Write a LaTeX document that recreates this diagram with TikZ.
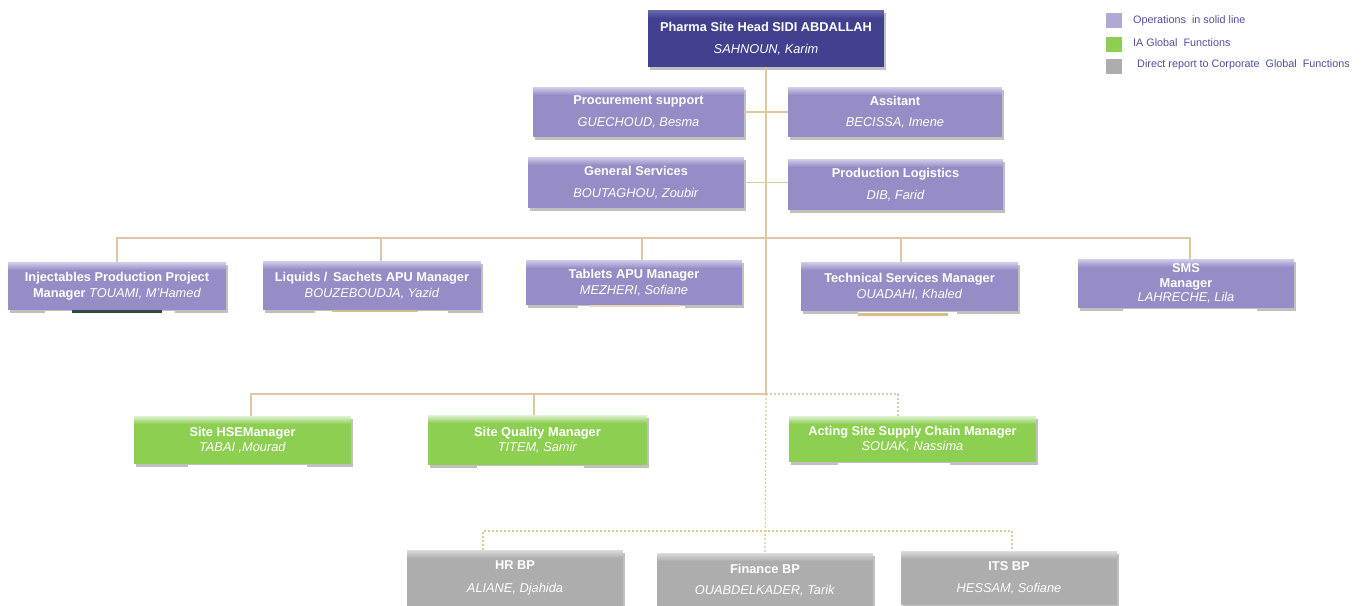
\documentclass[tikz,border=0pt]{standalone}
\usepackage{fontspec}
\setmainfont{Liberation Sans}
\usetikzlibrary{shadows}

\definecolor{headfill}{HTML}{41418F}
\definecolor{headlight}{HTML}{6A6AB0}
\definecolor{opsfill}{HTML}{968DC6}
\definecolor{opslight}{HTML}{D2CDEC}
\definecolor{iafill}{HTML}{8DCF50}
\definecolor{ialight}{HTML}{E0F2D4}
\definecolor{corpfill}{HTML}{ADADAD}
\definecolor{corplight}{HTML}{DCDCDC}
\definecolor{linkcol}{HTML}{DDC8A2}
\definecolor{legtext}{HTML}{4F4FA0}
\definecolor{barteal}{HTML}{2E4A4A}
\definecolor{bargold}{HTML}{D8BC86}

\begin{document}
\begin{tikzpicture}[x=1pt,y=-1pt,
  card/.style={inner sep=0pt, align=center, text=white,
    font=\fontsize{12.8}{15.5}\selectfont,
    drop shadow={shadow xshift=1.5pt,shadow yshift=-2.5pt,opacity=0.45,fill=black!55}},
  % light band fading into the fill colour along the top edge, built from thin strips
  topshade/.style 2 args={path picture={
    \foreach \k in {0,...,8}{
      \pgfmathsetmacro\mixpc{100-\k*12.5}
      \pgfmathsetmacro\ya{-\k}
      \pgfmathsetmacro\yb{-\k-1.3}
      \fill[#1!\mixpc!#2] ([yshift=\ya pt]path picture bounding box.north west)
        rectangle ([yshift=\yb pt]path picture bounding box.north east);
    }}},
  headbox/.style={card, fill=headfill, topshade={headlight}{headfill}},
  opsbox/.style={card, fill=opsfill, topshade={opslight}{opsfill}},
  iabox/.style={card, fill=iafill, topshade={ialight}{iafill}},
  corpbox/.style={card, fill=corpfill, topshade={corplight}{corpfill}},
  link/.style={draw=linkcol, line width=1.3pt},
  dotlink/.style={link, dash pattern=on 2pt off 2pt},
  gapstrip/.style={fill=white, draw=none},
  legsq/.style={draw=none, minimum width=16pt, minimum height=15pt, inner sep=0pt},
  legtxt/.style={anchor=west, inner sep=0pt, text=legtext, font=\fontsize{10.8}{12}\selectfont},
]
\useasboundingbox (0,0) rectangle (1367,605);

% ---------- top of the site ----------
\node[headbox, minimum width=236pt, minimum height=57pt] (head) at (766,38.5)
  {\textbf{Pharma Site Head SIDI ABDALLAH}\\[6pt]\textit{SAHNOUN, Karim}};

% ---------- legend ----------
\node[legsq, fill=opsfill!75!white] (lgops) at (1113.5,20.5) {};
\node[legsq, fill=iafill] (lgia) at (1113.5,44.5) {};
\node[legsq, fill=corpfill] (lgcorp) at (1113.5,66) {};
\node[legtxt] (lgopst) at (1133,21) {Operations \ in solid line};
\node[legtxt] (lgiat) at (1133,43) {IA Global \ Functions};
\node[legtxt] (lgcorpt) at (1137,64.5) {Direct report to Corporate \ Global \ Functions};

% ---------- staff around the head ----------
\node[opsbox, minimum width=211pt, minimum height=50pt] (proc) at (638.5,112)
  {\textbf{Procurement support}\\[6pt]\textit{GUECHOUD, Besma}};
\node[opsbox, minimum width=214pt, minimum height=50pt] (asst) at (895,112)
  {\textbf{Assitant}\\[6pt]\textit{BECISSA, Imene}};
\node[opsbox, minimum width=216pt, minimum height=51pt] (gen) at (636,182.5)
  {\textbf{General Services}\\[6pt]\textit{BOUTAGHOU, Zoubir}};
\node[opsbox, minimum width=215pt, minimum height=51pt] (prod) at (895.5,184.5)
  {\textbf{Production Logistics}\\[6pt]\textit{DIB, Farid}};

% ---------- operations managers ----------
\node[opsbox, minimum width=218pt, minimum height=48pt] (inj) at (117,286)
  {\textbf{Injectables Production Project}\\\textbf{Manager} \textit{TOUAMI, M'Hamed}};
\node[opsbox, minimum width=218pt, minimum height=49pt] (liq) at (372,285.5)
  {\textbf{Liquids / \,Sachets APU Manager}\\\textit{BOUZEBOUDJA, Yazid}};
\node[opsbox, minimum width=216pt, minimum height=45pt] (tab) at (634,282.5)
  {\textbf{Tablets APU Manager}\\\textit{MEZHERI, Sofiane}};
\node[opsbox, minimum width=217pt, minimum height=49pt] (tech) at (909.5,286.5)
  {\textbf{Technical Services Manager}\\\textit{OUADAHI, Khaled}};
\node[opsbox, minimum width=216pt, minimum height=49pt, font=\fontsize{12.8}{14.5}\selectfont] (sms) at (1186,283.5)
  {\textbf{SMS}\\\textbf{Manager}\\\textit{LAHRECHE, Lila}};

% ---------- IA global functions ----------
\node[iabox, minimum width=217pt, minimum height=48pt] (hse) at (242.5,440)
  {\textbf{Site HSEManager}\\\textit{TABAI ,Mourad}};
\node[iabox, minimum width=219pt, minimum height=50pt] (qual) at (537.5,440)
  {\textbf{Site Quality Manager}\\\textit{TITEM, Samir}};
\node[iabox, minimum width=247pt, minimum height=46pt] (scm) at (912.5,439)
  {\textbf{Acting Site Supply Chain Manager}\\\textit{SOUAK, Nassima}};

% ---------- corporate business partners ----------
\node[corpbox, minimum width=216pt, minimum height=56pt] (hr) at (515,578)
  {\textbf{HR BP}\\[7pt]\textit{ALIANE, Djahida}};
\node[corpbox, minimum width=216pt, minimum height=54pt] (fin) at (765,580)
  {\textbf{Finance BP}\\[6pt]\textit{OUABDELKADER, Tarik}};
\node[corpbox, minimum width=216pt, minimum height=54pt] (its) at (1009,578)
  {\textbf{ITS BP}\\[7pt]\textit{HESSAM, Sofiane}};

% ---------- breaks in the shadows below the boxes ----------
\fill[gapstrip] (45,311) rectangle (175,318);
\fill[gapstrip] (315,311) rectangle (448,318);
\fill[gapstrip] (578,306) rectangle (685,313);
\fill[gapstrip] (858,312) rectangle (957,319);
\fill[gapstrip] (1123,309) rectangle (1257,316);
\fill[gapstrip] (188,465) rectangle (307,472);
\fill[gapstrip] (477,466) rectangle (584,473);
\fill[gapstrip] (838,463) rectangle (950,470);
\fill[barteal] (72,309.5) rectangle (162,312.5);
\fill[bargold] (332,309.5) rectangle (418,312);
\fill[bargold!60!white] (590,305) rectangle (680,306.5);
\fill[bargold] (858,313) rectangle (948,315.5);

% ---------- reporting lines ----------
\coordinate (bus2) at (766,238);
\coordinate (bus3) at (766,394);
\coordinate (bus4) at (766,531);

\draw[link] (head.south) -- (bus3);
\draw[dotlink] (bus3) -- (fin.north);
\draw[link] (proc.east) -- (asst.west);
\draw[link] (gen.east) -- (gen.east -| prod.west);

\draw[link] (inj.north) |- (bus2) -| ([xshift=4pt]sms.north);
\draw[link] ([xshift=9pt]liq.north) -- ([xshift=9pt]liq.north |- bus2);
\draw[link] ([xshift=8pt]tab.north) -- ([xshift=8pt]tab.north |- bus2);
\draw[link] ([xshift=-8.5pt]tech.north) -- ([xshift=-8.5pt]tech.north |- bus2);

\draw[link] ([xshift=8.5pt]hse.north) |- (bus3);
\draw[link] ([xshift=-3.5pt]qual.north) -- ([xshift=-3.5pt]qual.north |- bus3);
\draw[dotlink] (bus3) -| ([xshift=-14.5pt]scm.north);

\draw[dotlink] ([xshift=-32pt]hr.north) |- (bus4) -| ([xshift=3pt]its.north);
\end{tikzpicture}
\end{document}
